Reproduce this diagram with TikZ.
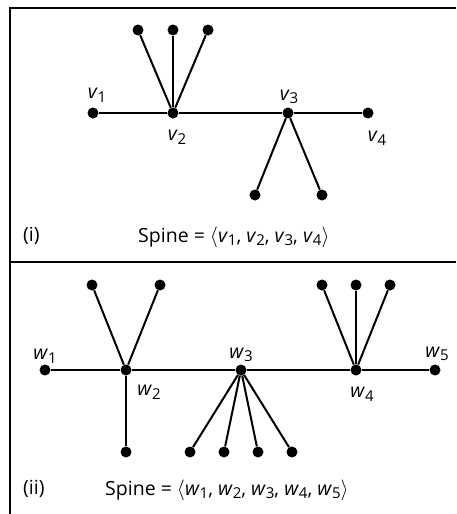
\documentclass[tikz,border=0pt]{standalone}
\usepackage{fontspec}
\setmainfont{Open Sans}
\newcommand{\sbs}[1]{\raisebox{-0.35ex}{\fontsize{15}{15}\selectfont #1}}
\newcommand{\vv}[1]{\textit{v}\sbs{#1}}
\newcommand{\ww}[1]{\textit{w}\sbs{#1}}
\begin{document}
\begin{tikzpicture}[x=1pt,y=-1pt,
  dot/.style={circle,fill=black,inner sep=0pt,minimum size=11pt},
  edge/.style={line width=2pt},
  frame/.style={line width=1.6pt},
  lbl/.style={font=\fontsize{19.5}{22}\selectfont, inner sep=0pt}]
\useasboundingbox (0,0) rectangle (456,514);
\draw[frame] (456,8) -- (10,8) -- (10,514);
\draw[frame] (10,262) -- (456,262);
% part (i)
\node[dot] (v1) at (93,113) {};
\node[dot] (v2) at (173,113) {};
\node[dot] (v3) at (288,113) {};
\node[dot] (v4) at (368,113) {};
\node[dot] (a1) at (138,30) {};
\node[dot] (a2) at (173,30) {};
\node[dot] (a3) at (208,30) {};
\node[dot] (b1) at (255,195) {};
\node[dot] (b2) at (322,195) {};
\draw[edge] (v1) -- (v2) -- (v3) -- (v4);
\foreach \n in {a1,a2,a3} \draw[edge] (v2) -- (\n);
\foreach \n in {b1,b2} \draw[edge] (v3) -- (\n);
\node[lbl] (lv1) at (97,95) {\vv{1}};
\node[lbl] (lv2) at (177,137) {\vv{2}};
\node[lbl] (lv3) at (289,97) {\vv{3}};
\node[lbl] (lv4) at (377,138) {\vv{4}};
\node[lbl,anchor=west] (c1) at (23,236) {(i)};
\node[lbl,anchor=west] (s1) at (138,237) {Spine = $\langle$\vv{1}, \vv{2}, \vv{3}, \vv{4}$\rangle$};
% part (ii)
\node[dot] (w1) at (45,370) {};
\node[dot] (w2) at (126,370) {};
\node[dot] (w3) at (241,370) {};
\node[dot] (w4) at (356,370) {};
\node[dot] (w5) at (435,370) {};
\node[dot] (p1) at (92,285) {};
\node[dot] (p2) at (160,285) {};
\node[dot] (p3) at (126,452) {};
\node[dot] (q1) at (190,452) {};
\node[dot] (q2) at (224,452) {};
\node[dot] (q3) at (258,452) {};
\node[dot] (q4) at (292,452) {};
\node[dot] (r1) at (322,285) {};
\node[dot] (r2) at (356,285) {};
\node[dot] (r3) at (390,285) {};
\draw[edge] (w1) -- (w2) -- (w3) -- (w4) -- (w5);
\foreach \n in {p1,p2,p3} \draw[edge] (w2) -- (\n);
\foreach \n in {q1,q2,q3,q4} \draw[edge] (w3) -- (\n);
\foreach \n in {r1,r2,r3} \draw[edge] (w4) -- (\n);
\node[lbl] (lw1) at (45,356) {\ww{1}};
\node[lbl] (lw2) at (149,392) {\ww{2}};
\node[lbl] (lw3) at (241,355) {\ww{3}};
\node[lbl] (lw4) at (362,394) {\ww{4}};
\node[lbl] (lw5) at (437,354) {\ww{5}};
\node[lbl,anchor=west] (c2) at (23,489) {(ii)};
\node[lbl,anchor=west] (s2) at (105,490) {Spine = $\langle$\ww{1}, \ww{2}, \ww{3}, \ww{4}, \ww{5}$\rangle$};
\end{tikzpicture}
\end{document}
